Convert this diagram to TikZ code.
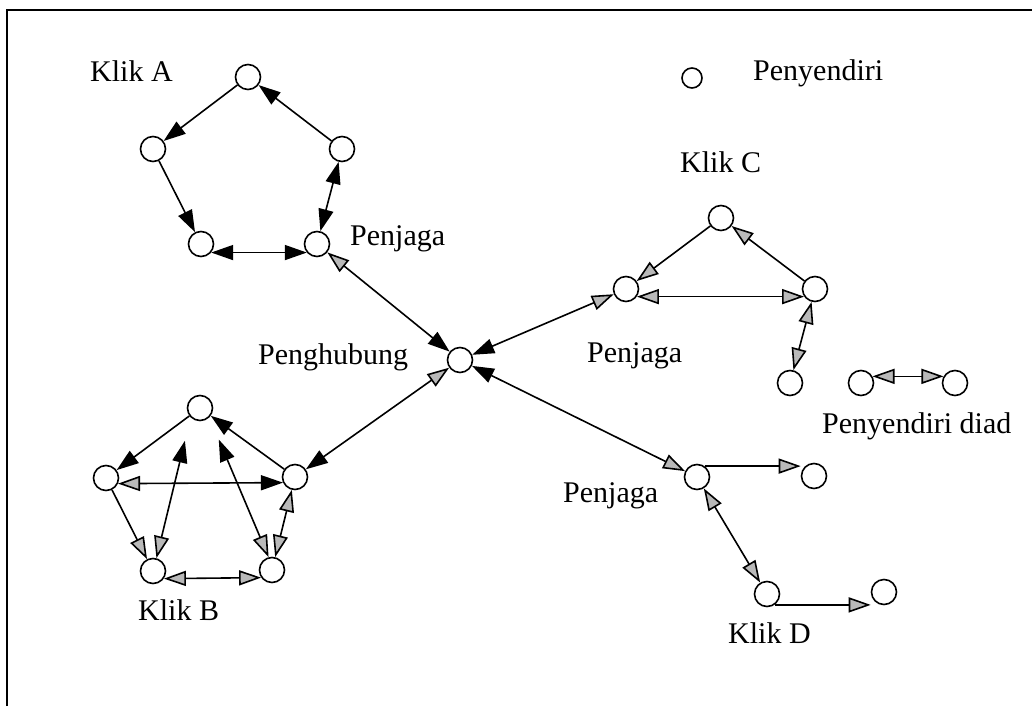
\documentclass[tikz,border=0pt]{standalone}
\usepackage{fontspec}
\setmainfont{Liberation Serif}
\usetikzlibrary{arrows.meta}

\begin{document}
\begin{tikzpicture}[
    x=1pt, y=-1pt,
    actor/.style={
        circle,
        draw,
        line width=1.6pt,
        minimum size=25pt,
        inner sep=0pt
    },
    txt/.style={
        anchor=base west,
        inner sep=0pt,
        font=\fontsize{30}{34}\selectfont
    },
    link/.style={
        line width=1.6pt
    },
    % solid and grey heads, with a double-ended form of each
    bb/.style={link, {Triangle[length=22pt,width=15pt]}-{Triangle[length=22pt,width=15pt]}},
    gg/.style={link, {Triangle[length=22pt,width=15pt,fill=gray!55]}-{Triangle[length=22pt,width=15pt,fill=gray!55]}},
    gb/.style={link, {Triangle[length=22pt,width=15pt,fill=gray!55]}-{Triangle[length=22pt,width=15pt]}},
    bg/.style={link, {Triangle[length=22pt,width=15pt]}-{Triangle[length=22pt,width=15pt,fill=gray!55]}},
    tob/.style={link, -{Triangle[length=22pt,width=15pt]}},
    tog/.style={link, -{Triangle[length=22pt,width=15pt,fill=gray!55]}}
]

\useasboundingbox (0,0) rectangle (1032,706);

% ------------------------------------------------
% Frame
% ------------------------------------------------

\draw[line width=2pt] (7,706) -- (7,10) -- (1032,10);

% ------------------------------------------------
% Klik A
% ------------------------------------------------

\node[actor] (a1) at (248,77) {};
\node[actor] (a2) at (153,149) {};
\node[actor] (a3) at (342,149) {};
\node[actor] (a4) at (201,244) {};
\node[actor] (pa) at (317,244) {};

\node[txt] (klika) at (90,82) {Klik A};
\node[txt] (penjagaa) at (350,245) {Penjaga};

% ------------------------------------------------
% Penghubung
% ------------------------------------------------

\node[actor] (hub) at (460,360) {};
\node[txt] (penghubung) at (258,364) {Penghubung};

% ------------------------------------------------
% Klik B
% ------------------------------------------------

\node[actor] (b1) at (200,408) {};
\node[actor] (b2) at (106,478) {};
\node[actor] (b3) at (295,477) {};
\node[actor] (b4) at (153,571) {};
\node[actor] (b5) at (272,570) {};

\node[txt] (klikb) at (138,620) {Klik B};

% ------------------------------------------------
% Klik C and Penyendiri diad
% ------------------------------------------------

\node[actor] (c1) at (721,218) {};
\node[actor] (pc) at (626,289) {};
\node[actor] (c3) at (815,289) {};
\node[actor] (c4) at (790,383) {};

\node[txt] (klikc) at (680,172) {Klik C};
\node[txt] (penjagac) at (587,362) {Penjaga};

\node[actor] (e1) at (861,383) {};
\node[actor] (e2) at (955,383) {};
\node[txt] (diad) at (822,433) {Penyendiri diad};

% ------------------------------------------------
% Klik D
% ------------------------------------------------

\node[actor] (pd) at (697,477) {};
\node[actor] (d2) at (814,476) {};
\node[actor] (d3) at (767,594) {};
\node[actor] (d4) at (884,592) {};

\node[txt] (penjagad) at (563,502) {Penjaga};
\node[txt] (klikd) at (728,643) {Klik D};

% ------------------------------------------------
% Penyendiri
% ------------------------------------------------

\node[actor, minimum size=20pt] (lone) at (692,78) {};
\node[txt] (penyendiri) at (753,81) {Penyendiri};

% ------------------------------------------------
% Arrows: Klik A
% ------------------------------------------------

\draw[tob] (a1) -- (a2);
\draw[tob] (a3) -- (a1);
\draw[tob] (a2) -- (a4);
\draw[bb] (a3) -- (pa);
\draw[bb] (a4.-40) -- (pa.220);

% ------------------------------------------------
% Arrows: Klik B
% ------------------------------------------------

\draw[tob] (b1) -- (b2);
\draw[tob] (b3) -- (b1);
\draw[gb] (b2.-25) -- (b3.205);
\draw[tog] (b2) -- (b4);
\draw[gb, shorten >=24pt] (b4.75) -- (b1.south west);
\draw[gb, shorten >=24pt] (b5.105) -- (b1.south east);
\draw[gg] (b3) -- (b5);
\draw[gg] (b4.-35) -- (b5.215);

% ------------------------------------------------
% Arrows: Klik C and diad
% ------------------------------------------------

\draw[tog] (c1) -- (pc);
\draw[tog] (c3) -- (c1);
\draw[gg] (pc.-35) -- (c3.215);
\draw[gg] (c3) -- (c4);
\draw[gg] (e1.30) -- (e2.150);

% ------------------------------------------------
% Arrows: Klik D
% ------------------------------------------------

\draw[tog] (pd.55) -- (pd.55 -| d2.west);
\draw[gg] (pd) -- (d3);
\draw[tog] (d3.-55) -- (d3.-55 -| d4.west);

% ------------------------------------------------
% Arrows: Penghubung to the Penjaga nodes
% ------------------------------------------------

\draw[bg] (hub) -- (pa);
\draw[bg] (hub) -- (pc);
\draw[gb] (hub) -- (b3);
\draw[bg] (hub) -- (pd);

\end{tikzpicture}
\end{document}
